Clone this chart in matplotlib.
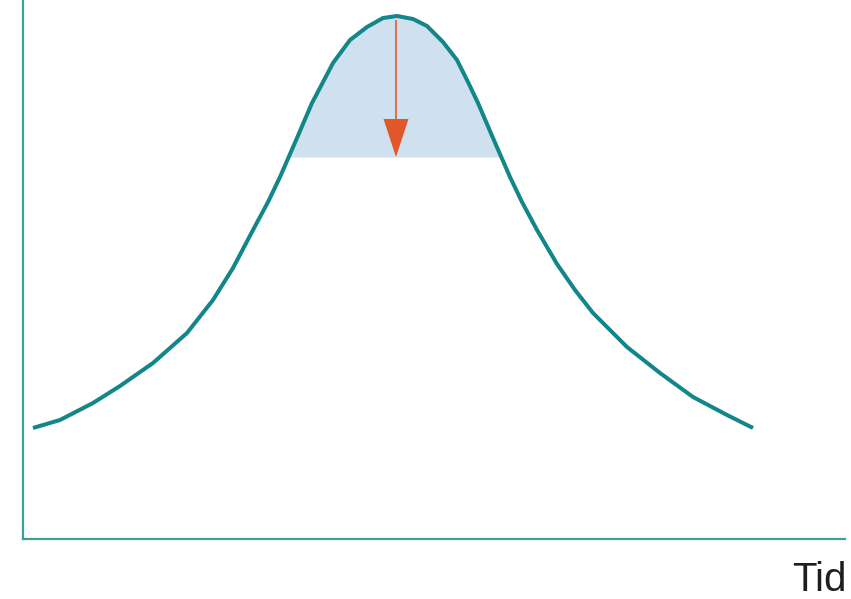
import numpy as np
import matplotlib
matplotlib.use('Agg')
import matplotlib.pyplot as plt

# curve (time, level)
tid = [10, 37, 70, 97, 130, 164, 190, 210, 230, 245, 257, 274, 289, 299,
       310, 327, 344, 360, 374, 390, 404, 420, 434, 445, 455, 470, 487, 499,
       514, 534, 552, 570, 604, 637, 670, 704, 730]
niva = [111, 119, 136, 153, 176, 206, 239, 271, 309, 337, 362, 401, 436, 455,
        476, 499, 512, 521, 523, 520, 513, 497, 479, 457, 436, 401, 362, 337,
        309, 275, 249, 226, 192, 166, 142, 124, 111]
grans = 382      # level of the shaded band's lower edge
topp_x = 373     # arrow position
topp_y = 519

fig = plt.figure(figsize=(8.51, 5.99), dpi=100)
ax = fig.add_axes([23 / 851, 60 / 599, 822 / 851, 539 / 599])

t = np.array(tid)
y = np.array(niva)
ax.fill_between(t, grans, y, where=y > grans, interpolate=True,
                color='#cfe1ee', linewidth=0)
ax.plot(t, y, color='#13868a', linewidth=2.9, solid_joinstyle='round',
        solid_capstyle='butt')

ax.arrow(topp_x, topp_y, 0, grans - topp_y, width=1.6, head_width=25,
         head_length=38, length_includes_head=True,
         color='#e2572a', linewidth=0)

ax.set_xlim(0, 822)
ax.set_ylim(0, 539)
ax.set_xticks([])
ax.set_yticks([])
for s in ['top', 'right']:
    ax.spines[s].set_visible(False)
for s in ['left', 'bottom']:
    ax.spines[s].set_color('#3f9f95')
    ax.spines[s].set_linewidth(1.6)

fig.text(847 / 851, 1 - 591 / 599, 'Tid', ha='right', va='baseline',
         fontsize=29, color='#1e1e1e',
         family=['Liberation Sans', 'DejaVu Sans'])

fig.savefig('out.png', dpi=100)
